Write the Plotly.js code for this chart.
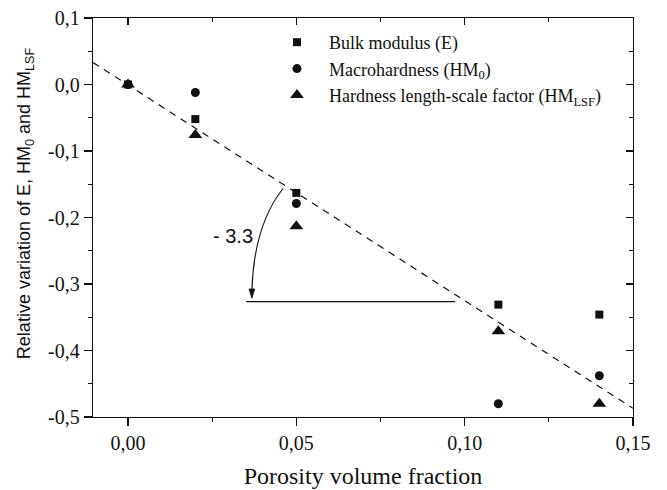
<!DOCTYPE html>
<html>
<head>
<meta charset="utf-8">
<script src="https://cdn.plot.ly/plotly-3.0.1.min.js"></script>
<style>html,body{margin:0;padding:0;background:#fff;}#chart{width:667px;height:490px;}</style>
</head>
<body>
<div id="chart"></div>
<script>
// Data
const porosity = [0.00, 0.02, 0.05, 0.11, 0.14];
const bulkModulus = [0.000, -0.052, -0.163, -0.331, -0.346];
const macroHardness = [0.000, -0.012, -0.179, -0.480, -0.438];
const hardnessLSF = [0.000, -0.076, -0.213, -0.371, -0.480];
const fitX = [-0.0104, 0.15];
const fitY = [0.033, -0.487];
const seriesNames = ['Bulk modulus (E)', 'Macrohardness (HM<sub>0</sub>)', 'Hardness length-scale factor (HM<sub>LSF</sub>)'];
const xTickVals = [0.00, 0.05, 0.10, 0.15];
const xTickText = ['0,00', '0,05', '0,10', '0,15'];
const xMinorVals = [0.025, 0.075, 0.125];
const yTickVals = [-0.5, -0.4, -0.3, -0.2, -0.1, 0.0, 0.1];
const yTickText = ['-0,5', '-0,4', '-0,3', '-0,2', '-0,1', '0,0', '0,1'];
const yMinorVals = [-0.45, -0.35, -0.25, -0.15, -0.05, 0.05];
const slopeLabel = '- 3.3';
const xTitle = 'Porosity volume fraction';
const yTitle = 'Relative variation of E, HM<sub>0</sub> and HM<sub>LSF</sub>';

const ink = '#111';
const serif = 'Liberation Serif';
const sans = 'Liberation Sans';

const traces = [
  {x: fitX, y: fitY, mode: 'lines', line: {color: ink, width: 1.2, dash: '7px,6px'}, showlegend: false, hoverinfo: 'skip'},
  {x: porosity, y: bulkModulus, mode: 'markers', name: seriesNames[0], marker: {symbol: 'square', size: 8, color: ink}},
  {x: porosity, y: macroHardness, mode: 'markers', name: seriesNames[1], marker: {symbol: 'circle', size: 9, color: ink}},
  {x: porosity, y: hardnessLSF, mode: 'markers', name: seriesNames[2], marker: {symbol: 'triangle-up', size: 12, color: ink}},
  {x: [], y: [], xaxis: 'x2', yaxis: 'y2', showlegend: false, hoverinfo: 'skip'}
];

const xRange = [-0.0104, 0.15];
const yRange = [-0.5, 0.1];
const axLine = {showline: true, linecolor: ink, linewidth: 1.3, showgrid: false, zeroline: false, tickcolor: ink, tickwidth: 1.3};

const layout = {
  width: 667, height: 490,
  margin: {l: 93, r: 34, t: 18, b: 73},
  paper_bgcolor: '#fff', plot_bgcolor: '#fff',
  font: {family: serif, size: 20, color: ink},
  showlegend: true,
  legend: {x: 0.3185, y: 0.985, xanchor: 'left', yanchor: 'top', bgcolor: 'rgba(0,0,0,0)', font: {family: serif, size: 18, color: ink}, itemwidth: 54},
  xaxis: Object.assign({}, axLine, {
    range: xRange, tickmode: 'array', tickvals: xTickVals, ticktext: xTickText,
    ticks: 'outside', ticklen: 8,
    minor: {tickmode: 'array', tickvals: xMinorVals, ticks: 'outside', ticklen: 4, tickwidth: 1.3, tickcolor: ink},
    tickfont: {family: serif, size: 20, color: ink},
    title: {text: xTitle, font: {family: serif, size: 24, color: ink}, standoff: 14}
  }),
  yaxis: Object.assign({}, axLine, {
    range: yRange, tickmode: 'array', tickvals: yTickVals, ticktext: yTickText,
    ticks: 'outside', ticklen: 8,
    minor: {tickmode: 'array', tickvals: yMinorVals, ticks: 'outside', ticklen: 4, tickwidth: 1.3, tickcolor: ink},
    tickfont: {family: serif, size: 20, color: ink}
  }),
  xaxis2: Object.assign({}, axLine, {
    overlaying: 'x', side: 'top', anchor: 'y2', range: xRange, tickmode: 'array', tickvals: xTickVals,
    ticks: 'inside', ticklen: 7, showticklabels: false,
    minor: {tickmode: 'array', tickvals: xMinorVals, ticks: 'inside', ticklen: 4, tickwidth: 1.3, tickcolor: ink}
  }),
  yaxis2: Object.assign({}, axLine, {
    overlaying: 'y', side: 'right', anchor: 'x2', range: yRange, tickmode: 'array', tickvals: yTickVals,
    ticks: 'inside', ticklen: 7, showticklabels: false,
    minor: {tickmode: 'array', tickvals: yMinorVals, ticks: 'inside', ticklen: 4, tickwidth: 1.3, tickcolor: ink}
  }),
  shapes: [
    {type: 'path', xref: 'x', yref: 'y', path: 'M0.0461,-0.156 Q0.0374,-0.2113 0.0368,-0.310', line: {color: ink, width: 1.1}},
    {type: 'path', xref: 'x', yref: 'y', path: 'M0.03595,-0.3075 L0.0368,-0.3215 L0.03765,-0.3075 Z', line: {color: ink, width: 0.8}, fillcolor: ink},
    {type: 'line', xref: 'x', yref: 'y', x0: 0.0351, x1: 0.0972, y0: -0.3266, y1: -0.3266, line: {color: ink, width: 1.2}}
  ],
  annotations: [
    {x: 0.0312, y: -0.2285, xref: 'x', yref: 'y', text: slopeLabel, showarrow: false, font: {family: sans, size: 20, color: ink}},
    {x: 0, y: 0.536, xref: 'paper', yref: 'paper', xshift: -68, xanchor: 'center', yanchor: 'middle', textangle: -90,
     text: yTitle, showarrow: false, font: {family: sans, size: 18, color: ink}}
  ]
};

Plotly.newPlot('chart', traces, layout, {staticPlot: true, displayModeBar: false});
</script>
</body>
</html>
